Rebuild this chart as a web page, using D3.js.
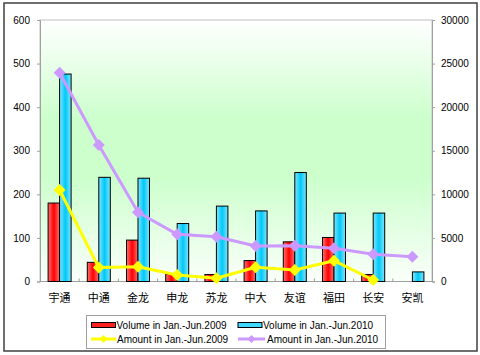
<!DOCTYPE html>
<html><head><meta charset="utf-8">
<script src="https://cdn.jsdelivr.net/npm/d3@7"></script>
<style>body{margin:0;background:#fff}svg{display:block}</style>
</head><body>
<script>
const categories = ["宇通","中通","金龙","申龙","苏龙","中大","友谊","福田","长安","安凯"];
const volume2009 = [180,44,95,17,16,48,91,101,16,0];
const volume2010 = [476,239,237,133,173,162,250,157,157,22];
const amount2009 = [10500,1600,1700,750,380,1630,1320,2390,170,null];
const amount2010 = [23950,15660,7940,5410,5140,4070,4110,3810,3120,2850];
const leftTicks = [0,100,200,300,400,500,600];
const rightTicks = [0,5000,10000,15000,20000,25000,30000];
const seriesNames = ["Volume in Jan.-Jun.2009","Volume in Jan.-Jun.2010","Amount in Jan.-Jun.2009","Amount in Jan.-Jun.2010"];

const W=480,H=355;
const m={l:40,r:432,t:20,b:281.5};
const svg=d3.select("body").append("svg").attr("width",W).attr("height",H);
const defs=svg.append("defs");
const bg=defs.append("linearGradient").attr("id","bg").attr("x1",0).attr("y1",0).attr("x2",0).attr("y2",1);
[[0,"#ffffff"],[0.38,"#ccffcc"],[0.6,"#ccffcc"],[1,"#fafffa"]].forEach(s=>bg.append("stop").attr("offset",s[0]).attr("stop-color",s[1]));
function hgrad(id,edge,mid){
  const g=defs.append("linearGradient").attr("id",id).attr("x1",0).attr("y1",0).attr("x2",1).attr("y2",0);
  [[0,edge],[0.5,mid],[1,edge]].forEach(s=>g.append("stop").attr("offset",s[0]).attr("stop-color",s[1]));
}
hgrad("gr","#ff7070","#ff0000");
hgrad("gb","#7fe6ff","#00c8f8");

// outer border
svg.append("rect").attr("x",4).attr("y",3).attr("width",473).attr("height",348).attr("fill","#fff").attr("stroke","#404040").attr("stroke-width",1.5);

const x=d3.scaleBand().domain(categories).range([m.l,m.r]).paddingInner(0).paddingOuter(0);
const yL=d3.scaleLinear().domain([0,600]).range([m.b,m.t]);
const yR=d3.scaleLinear().domain([0,30000]).range([m.b,m.t]);

svg.append("rect").attr("x",m.l).attr("y",m.t).attr("width",m.r-m.l).attr("height",m.b-m.t).attr("fill","url(#bg)").attr("stroke","#c0c0c0");

const font="'Liberation Sans',Arial,sans-serif";
// left axis
const ga=svg.append("g").attr("transform",`translate(${m.l},0)`).call(d3.axisLeft(yL).tickValues(leftTicks).tickFormat(d3.format("d")).tickSize(3).tickPadding(7));
ga.selectAll("text").attr("font-family",font).attr("font-size",10).attr("fill","#000");
ga.selectAll("line,path").attr("stroke","#a0a0a0");
const gr=svg.append("g").attr("transform",`translate(${m.r},0)`).call(d3.axisRight(yR).tickValues(rightTicks).tickFormat(d3.format("d")).tickSize(3).tickPadding(6));
gr.selectAll("text").attr("font-family",font).attr("font-size",10).attr("fill","#000");
gr.selectAll("line,path").attr("stroke","#a0a0a0");
// bottom axis
const gbx=svg.append("g").attr("transform",`translate(0,${m.b})`);
gbx.append("line").attr("x1",m.l).attr("x2",m.r).attr("stroke","#a0a0a0");
categories.forEach((c,i)=>{
  const xx=x(c);
  if(i>0) gbx.append("line").attr("x1",xx).attr("x2",xx).attr("y1",-3).attr("y2",0).attr("stroke","#a0a0a0");
  gbx.append("text").attr("x",xx+x.bandwidth()/2).attr("y",20).attr("text-anchor","middle")
    .attr("font-family","'Noto Sans CJK SC',sans-serif").attr("font-size",11).attr("fill","#000").text(c);
});

// bars
const bw=11.5;
const bars=svg.append("g");
categories.forEach((c,i)=>{
  const cx=x(c)+x.bandwidth()/2;
  if(volume2009[i]>0) bars.append("rect").attr("x",cx-bw).attr("y",yL(volume2009[i])).attr("width",bw).attr("height",yL(0)-yL(volume2009[i])).attr("fill","url(#gr)").attr("stroke","#000").attr("stroke-width",1);
  if(volume2010[i]>0) bars.append("rect").attr("x",cx).attr("y",yL(volume2010[i])).attr("width",bw).attr("height",yL(0)-yL(volume2010[i])).attr("fill","url(#gb)").attr("stroke","#000").attr("stroke-width",1);
});

function diamond(g,cx,cy,r,col){
  g.append("path").attr("d",`M${cx},${cy-r}L${cx+r},${cy}L${cx},${cy+r}L${cx-r},${cy}Z`).attr("fill",col);
}
function drawLine(data,col){
  const pts=categories.map((c,i)=>[x(c)+x.bandwidth()/2,data[i]]).filter(p=>p[1]!=null);
  const line=d3.line().x(p=>p[0]).y(p=>yR(p[1]));
  svg.append("path").attr("d",line(pts)).attr("fill","none").attr("stroke",col).attr("stroke-width",3).attr("stroke-linejoin","round");
  const g=svg.append("g");
  pts.forEach(p=>diamond(g,p[0],yR(p[1]),6,col));
}
drawLine(amount2010,"#cc99ff");
drawLine(amount2009,"#ffff00");

// legend
const lg=svg.append("g");
lg.append("rect").attr("x",86.5).attr("y",315.5).attr("width",299).attr("height",33).attr("fill","#fff").attr("stroke","#a0a0a0");
const lt=(xx,yy,t)=>lg.append("text").attr("x",xx).attr("y",yy).attr("font-family",font).attr("font-size",10).attr("fill","#000").text(t);
lg.append("rect").attr("x",91.5).attr("y",322.5).attr("width",24).attr("height",5).attr("fill","#ff2020").attr("stroke","#000");
lt(116.5,329,seriesNames[0]);
lg.append("rect").attr("x",238).attr("y",322.5).attr("width",24).attr("height",5).attr("fill","#40d8ff").attr("stroke","#000");
lt(263,329,seriesNames[1]);
lg.append("line").attr("x1",91).attr("x2",116).attr("y1",339).attr("y2",339).attr("stroke","#ffff00").attr("stroke-width",3);
diamond(lg,103.5,339,4,"#ffff00");
lt(117,343,seriesNames[2]);
lg.append("line").attr("x1",238).attr("x2",265).attr("y1",339).attr("y2",339).attr("stroke","#cc99ff").attr("stroke-width",3);
diamond(lg,251.5,339,4,"#cc99ff");
lt(267,343,seriesNames[3]);
</script>
</body></html>
